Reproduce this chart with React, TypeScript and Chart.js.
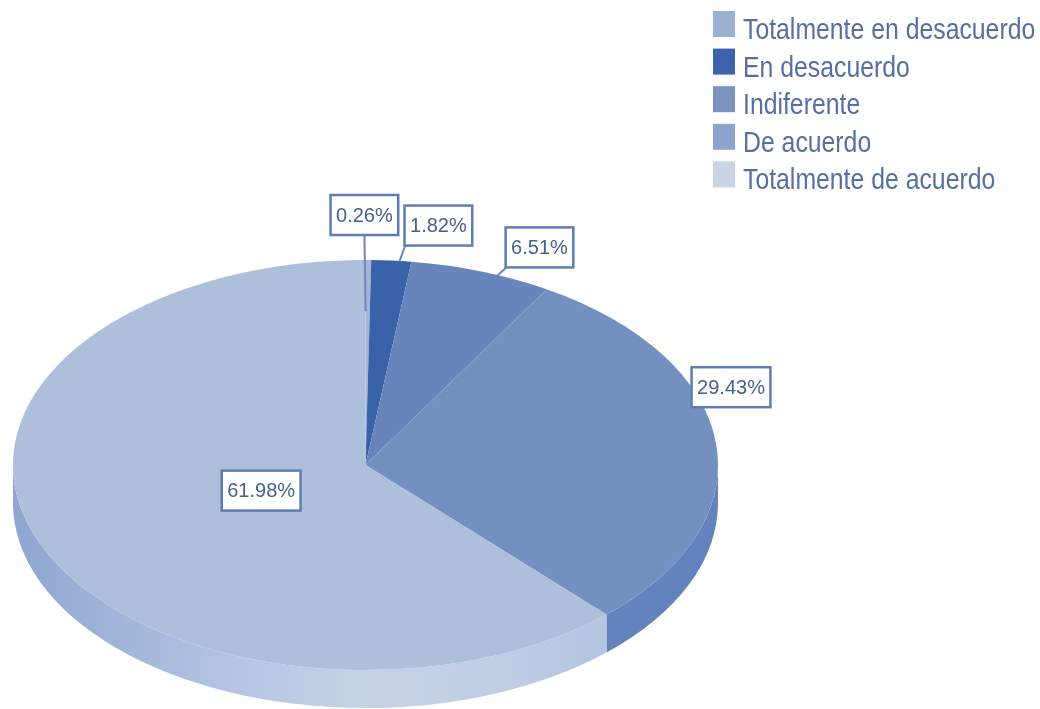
import React, { useEffect, useRef } from "react";
import { Chart, registerables } from "chart.js";

Chart.register(...registerables);

// Survey answers and their shares
const categories = [
  "Totalmente en desacuerdo",
  "En desacuerdo",
  "Indiferente",
  "De acuerdo",
  "Totalmente de acuerdo",
];
const shares = [0.26, 1.82, 6.51, 29.43, 61.98];

const sliceColors = ["#a3b6d8", "#3a62a8", "#6785ba", "#7490c1", "#aebfdc"];
const legendColors = ["#9cb0d4", "#3f62ac", "#7c93c0", "#8ca3cd", "#c9d4e6"];
const rimColors = ["#8ea3cc", "#335a9e", "#5d7cb3", "#6283bc", "#b5c6e0"];

// Tilted disc: the arcs are drawn flat, then squashed around this centre line
const discCenterY = 465;
const discSquash = 205 / 352.5;
const rimDepth = 38;

const ink = "#465f93";
const frame = "#5e7db5";

// Value tags, positioned relative to the middle of each slice
const tagPlacements = [
  { anchor: 1, dx: -4, dy: -45, tip: { scale: 0.75, dx: -2, dy: 0 }, attach: 0 },
  { anchor: 1, dx: 47, dy: -35, tip: { scale: 1, dx: 8, dy: 1 }, attach: -0.98 },
  { anchor: 1, dx: 58, dy: -24, tip: { scale: 1, dx: 15, dy: 5 }, attach: -0.98 },
  { anchor: 1, dx: 15, dy: -56, tip: null, attach: 0 },
  { anchor: 0.3, dx: -6, dy: 3, tip: null, attach: 0 },
];

function tiltedPoint(arc: any, angle: number, scale: number) {
  return {
    x: arc.x + Math.cos(angle) * arc.outerRadius * scale,
    y: discCenterY + Math.sin(angle) * arc.outerRadius * scale * discSquash,
  };
}

const tiltedDisc = {
  id: "tiltedDisc",
  beforeDatasetsDraw(chart: any) {
    const { ctx } = chart;
    const arcs = chart.getDatasetMeta(0).data;
    const first = arcs[0];
    const r = first.outerRadius;
    const ry = r * discSquash;

    // The rim: only the front half of the disc shows a side wall
    arcs.forEach((arc: any, i: number) => {
      const from = Math.max(arc.startAngle, 0);
      const to = Math.min(arc.endAngle, Math.PI);
      if (to <= from) return;
      let fill: any = rimColors[i];
      if (i === arcs.length - 1) {
        const g = ctx.createLinearGradient(arc.x - r, 0, arc.x + r, 0);
        g.addColorStop(0, "#8ea5d0");
        g.addColorStop(0.17, "#a3b7da");
        g.addColorStop(0.33, "#b6c7e3");
        g.addColorStop(0.5, "#c6d3e6");
        g.addColorStop(0.7, "#bfcde5");
        g.addColorStop(0.84, "#b3c5df");
        fill = g;
      }
      ctx.beginPath();
      ctx.ellipse(arc.x, discCenterY, r, ry, 0, from, to);
      ctx.ellipse(arc.x, discCenterY + rimDepth, r, ry, 0, to, from, true);
      ctx.closePath();
      ctx.fillStyle = fill;
      ctx.fill();
    });

    ctx.save();
    ctx.translate(0, discCenterY);
    ctx.scale(1, discSquash);
    ctx.translate(0, -first.y);
  },
  afterDatasetsDraw(chart: any) {
    chart.ctx.restore();
  },
  afterDraw(chart: any) {
    const { ctx } = chart;
    const arcs = chart.getDatasetMeta(0).data;

    // Leader lines and value tags
    ctx.font = '20px "Liberation Sans"';
    ctx.textBaseline = "middle";
    ctx.textAlign = "center";
    arcs.forEach((arc: any, i: number) => {
      const place = tagPlacements[i];
      const mid = (arc.startAngle + arc.endAngle) / 2;
      const base = tiltedPoint(arc, mid, place.anchor);
      const cx = base.x + place.dx;
      const cy = base.y + place.dy;
      const text = `${shares[i].toFixed(2)}%`;
      const w = ctx.measureText(text).width + 11;
      const h = 40;
      if (place.tip) {
        const tip = tiltedPoint(arc, mid, place.tip.scale);
        ctx.beginPath();
        ctx.moveTo(tip.x + place.tip.dx, tip.y + place.tip.dy);
        ctx.lineTo(cx + (place.attach * w) / 2, cy + h / 2);
        ctx.strokeStyle = "#6d86b8";
        ctx.lineWidth = 2;
        ctx.stroke();
      }
      ctx.fillStyle = "#ffffff";
      ctx.fillRect(cx - w / 2, cy - h / 2, w, h);
      ctx.strokeStyle = frame;
      ctx.lineWidth = 2.5;
      ctx.strokeRect(cx - w / 2, cy - h / 2, w, h);
      ctx.fillStyle = ink;
      ctx.fillText(text, cx, cy + 1);
    });

    // Legend in the top right corner, with tall narrow lettering
    ctx.textAlign = "left";
    ctx.textBaseline = "alphabetic";
    ctx.font = '24.8px "Liberation Sans"';
    categories.forEach((name, i) => {
      const y = 11 + i * 37.6;
      ctx.fillStyle = legendColors[i];
      ctx.fillRect(713, y, 22, 26);
      ctx.save();
      ctx.translate(743, y + 28);
      ctx.scale(1, 1.16);
      ctx.fillStyle = "#566ea1";
      ctx.fillText(name, 0, 0);
      ctx.restore();
    });
  },
};

export default function App() {
  const ref = useRef<HTMLCanvasElement>(null);

  useEffect(() => {
    const chart = new Chart(ref.current as HTMLCanvasElement, {
      type: "pie",
      data: {
        labels: categories,
        datasets: [
          {
            data: shares,
            backgroundColor: sliceColors,
            borderWidth: 0,
            clip: false,
          } as any,
        ],
      },
      options: {
        responsive: false,
        animation: false,
        layout: { padding: { left: 13, right: 322, top: 2, bottom: 2 } },
        plugins: {
          legend: { display: false },
          tooltip: { enabled: false },
        },
      },
      plugins: [tiltedDisc],
    });
    return () => chart.destroy();
  }, []);

  return (
    <div style={{ position: "absolute", left: 0, top: 0, background: "#ffffff" }}>
      <canvas ref={ref} width={1040} height={709} style={{ display: "block" }} />
    </div>
  );
}
